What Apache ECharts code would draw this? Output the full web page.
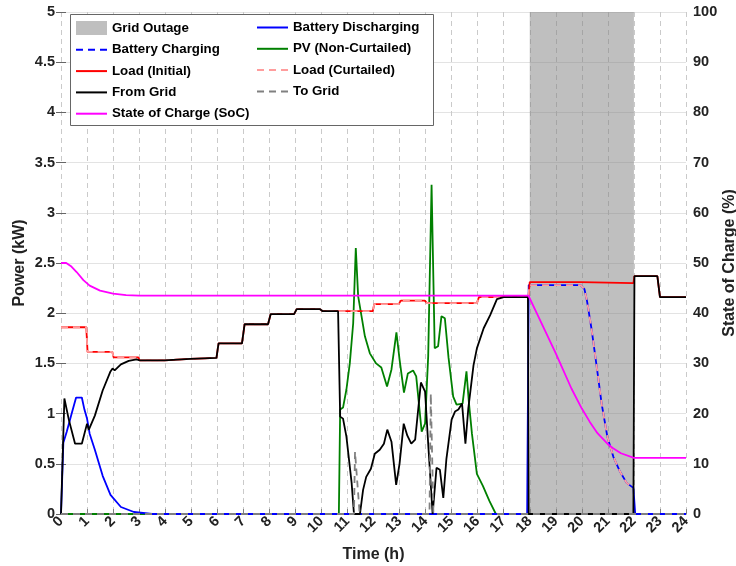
<!DOCTYPE html>
<html>
<head>
<meta charset="utf-8">
<title>Microgrid power flows</title>
<script src="https://cdn.jsdelivr.net/npm/echarts@6/dist/echarts.min.js"></script>
<style>
  html, body { margin: 0; padding: 0; background: #fff; }
  #chart { width: 736px; height: 566px; }
</style>
</head>
<body>
<div id="chart"></div>
<script>
// time axis (h)
const hourTicks = [0, 24, 1];
const outageSpan = [18, 22];

// [time (h), power (kW)]
const batteryDischarging = [
  [0, 0], [0.09, 0.71], [0.22, 0.82], [0.41, 1.0], [0.58, 1.16], [0.8, 1.16], [0.9, 1.04],
  [1.0, 0.95], [1.1, 0.8], [1.3, 0.64], [1.6, 0.38], [1.9, 0.19], [2.3, 0.07], [2.8, 0.02],
  [3.5, 0], [17.9, 0], [17.96, 2.28], [19.95, 2.28], [20.1, 2.24], [20.2, 2.12], [20.38, 1.83],
  [20.57, 1.47], [20.76, 1.1], [20.98, 0.77], [21.21, 0.57], [21.47, 0.42], [21.72, 0.31],
  [21.98, 0.26], [22.05, 0], [24, 0]
];
const batteryCharging = [
  [0, 0], [24, 0]
];
const pvNonCurtailed = [
  [0, 0], [10.67, 0], [10.72, 1.04], [10.83, 1.06], [10.96, 1.24], [11.09, 1.5], [11.22, 1.9],
  [11.32, 2.65], [11.41, 2.17], [11.54, 1.97], [11.67, 1.77], [11.86, 1.6], [12.1, 1.5],
  [12.3, 1.46], [12.52, 1.27], [12.69, 1.44], [12.88, 1.81], [13.0, 1.54], [13.17, 1.21],
  [13.32, 1.4], [13.52, 1.43], [13.64, 1.37], [13.85, 0.82], [13.98, 0.9], [14.1, 1.57],
  [14.23, 3.28], [14.35, 1.65], [14.48, 1.67], [14.61, 1.97], [14.74, 1.95], [14.88, 1.56],
  [15.06, 1.17], [15.19, 1.09], [15.42, 1.1], [15.57, 1.42], [15.66, 1.12], [15.78, 0.8],
  [15.97, 0.4], [16.2, 0.28], [16.45, 0.13], [16.7, 0], [24, 0]
];
const loadInitial = [
  [0, 1.86], [0.97, 1.86], [1.02, 1.615], [1.97, 1.615], [2.02, 1.56], [2.97, 1.56],
  [3.02, 1.53], [3.97, 1.53], [4.02, 1.545], [4.97, 1.545], [5.02, 1.555], [5.97, 1.555],
  [6.05, 1.7], [6.95, 1.7], [7.05, 1.89], [7.95, 1.89], [8.05, 1.99], [8.95, 1.99],
  [9.05, 2.04], [9.95, 2.04], [10.05, 2.02], [11.97, 2.02], [12.03, 2.09], [12.97, 2.09],
  [13.05, 2.125], [13.97, 2.125], [14.05, 2.1], [15.97, 2.1], [16.05, 2.16], [17.95, 2.16],
  [18.0, 2.31], [19.97, 2.31], [20.03, 2.3], [21.98, 2.3], [22.02, 2.37], [22.9, 2.37],
  [23.0, 2.16], [24, 2.16]
];
const loadCurtailed = [
  [0, 1.86], [0.97, 1.86], [1.02, 1.615], [1.97, 1.615], [2.02, 1.56], [2.97, 1.56],
  [3.02, 1.53], [3.97, 1.53], [4.02, 1.545], [4.97, 1.545], [5.02, 1.555], [5.97, 1.555],
  [6.05, 1.7], [6.95, 1.7], [7.05, 1.89], [7.95, 1.89], [8.05, 1.99], [8.95, 1.99],
  [9.05, 2.04], [9.95, 2.04], [10.05, 2.02], [11.97, 2.02], [12.03, 2.09], [12.97, 2.09],
  [13.05, 2.125], [13.97, 2.125], [14.05, 2.1], [15.97, 2.1], [16.05, 2.16], [17.95, 2.16],
  [17.98, 2.28], [19.95, 2.28], [20.1, 2.24], [20.2, 2.12], [20.38, 1.83], [20.57, 1.47],
  [20.76, 1.1], [20.98, 0.77], [21.21, 0.57], [21.47, 0.42], [21.72, 0.31], [21.98, 0.26]
];
const fromGrid = [
  [0, 0], [0.13, 1.15], [0.3, 0.94], [0.54, 0.7], [0.8, 0.7], [1.0, 0.9], [1.07, 0.84],
  [1.3, 0.98], [1.6, 1.23], [1.9, 1.42], [1.98, 1.45], [2.06, 1.43], [2.3, 1.49], [2.6, 1.525],
  [2.9, 1.54], [3.02, 1.53], [3.97, 1.53], [4.02, 1.545], [4.97, 1.545], [5.02, 1.555],
  [5.97, 1.555], [6.05, 1.7], [6.95, 1.7], [7.05, 1.89], [7.95, 1.89], [8.05, 1.99],
  [8.95, 1.99], [9.05, 2.04], [9.95, 2.04], [10.05, 2.02], [10.64, 2.02], [10.72, 0.97],
  [10.83, 0.95], [10.96, 0.77], [11.16, 0.31], [11.25, 0], [11.48, 0], [11.6, 0.24],
  [11.72, 0.37], [11.9, 0.45], [12.05, 0.6], [12.24, 0.64], [12.4, 0.7], [12.53, 0.84],
  [12.69, 0.72], [12.87, 0.29], [13.0, 0.5], [13.16, 0.9], [13.3, 0.78], [13.45, 0.7],
  [13.6, 0.74], [13.82, 1.31], [13.98, 1.22], [14.1, 0.7], [14.27, 0], [14.33, 0],
  [14.42, 0.46], [14.55, 0.44], [14.68, 0.16], [14.8, 0.55], [15.0, 0.94], [15.13, 1.02],
  [15.26, 1.04], [15.4, 1.1], [15.53, 0.7], [15.64, 1.05], [15.84, 1.48], [15.97, 1.65],
  [16.23, 1.85], [16.48, 1.98], [16.74, 2.14], [17.0, 2.16], [17.93, 2.16], [17.96, 0],
  [21.98, 0], [22.02, 2.37], [22.9, 2.37], [23.0, 2.16], [24, 2.16]
];
const toGrid = [
  [0, 0], [11.25, 0], [11.29, 0.62], [11.47, 0], [14.15, 0], [14.2, 1.2], [14.3, 0], [24, 0]
];
// [time (h), SoC (%)]
const stateOfCharge = [
  [0, 50], [0.2, 50], [0.4, 49.3], [0.6, 48.2], [0.86, 46.6], [1.1, 45.5], [1.5, 44.5],
  [2.0, 43.9], [2.5, 43.6], [3.0, 43.5], [17.95, 43.5], [19.0, 32], [19.6, 25], [20.0, 21],
  [20.3, 18.4], [20.6, 16.1], [21.0, 13.9], [21.2, 13.1], [21.5, 12.1], [22.0, 11.2], [24, 11.2]
];

const FONT = '"Liberation Sans", Arial, Helvetica, sans-serif';
const DASH = [7, 5];

const myChart = echarts.init(document.getElementById('chart'), null, { renderer: 'canvas' });

function lineSeries(name, data, color, extra) {
  return Object.assign({
    name: name,
    type: 'line',
    data: data,
    symbol: 'none',
    showSymbol: false,
    animation: false,
    color: color,
    lineStyle: { color: color, width: 1.8 }
  }, extra || {});
}

const legendText = { fontSize: 13.3, fontWeight: 'bold', fontFamily: FONT, color: '#000' };
// line icons only: hide the marker that the legend puts on line series
const legendBase = {
  orient: 'vertical', top: 21, padding: 0,
  itemWidth: 31, itemHeight: 14, itemGap: 8.3, selectedMode: false,
  itemStyle: { opacity: 0 },
  textStyle: legendText
};

const option = {
  animation: false,
  grid: { left: 61, right: 50, top: 12, bottom: 52, outerBoundsMode: 'none', containLabel: false },
  graphic: [{
    type: 'rect',
    left: 70, top: 14, z: 3,
    shape: { width: 363, height: 111 },
    style: { fill: '#fff', stroke: '#666', lineWidth: 1 }
  }],
  legend: [
    Object.assign({}, legendBase, {
      left: 75,
      data: [
        { name: 'Grid Outage', icon: 'rect', itemStyle: { color: '#bfbfbf', opacity: 1 } },
        'Battery Charging', 'Load (Initial)', 'From Grid', 'State of Charge (SoC)'
      ]
    }),
    Object.assign({}, legendBase, {
      left: 256,
      data: ['Battery Discharging', 'PV (Non-Curtailed)', 'Load (Curtailed)', 'To Grid']
    })
  ],
  xAxis: [
    {
      type: 'value', min: hourTicks[0], max: hourTicks[1], interval: hourTicks[2],
      name: 'Time (h)', nameLocation: 'middle', nameGap: 33,
      nameTextStyle: { fontSize: 16, fontWeight: 'bold', fontFamily: FONT, color: '#222' },
      axisLine: { show: true, lineStyle: { color: '#808080', width: 1 } },
      axisTick: { show: true, inside: true, length: 5, lineStyle: { color: '#808080' } },
      axisLabel: { rotate: 45, margin: 5, fontSize: 14.5, fontWeight: 'bold', fontFamily: FONT, color: '#222' },
      splitLine: { show: true, lineStyle: { color: '#cacaca', type: [5, 4], width: 1 } }
    },
    {
      type: 'value', position: 'top', min: hourTicks[0], max: hourTicks[1], interval: hourTicks[2],
      axisLine: { show: true, lineStyle: { color: '#a0a0a0', width: 1 } },
      axisTick: { show: false }, axisLabel: { show: false }, splitLine: { show: false }
    }
  ],
  yAxis: [
    {
      type: 'value', min: 0, max: 5, interval: 0.5,
      name: 'Power (kW)', nameLocation: 'middle', nameGap: 33, nameRotate: 90, nameMoveOverlap: false,
      nameTextStyle: { fontSize: 16, fontWeight: 'bold', fontFamily: FONT, color: '#222' },
      axisLine: { show: false },
      axisTick: { show: true, inside: true, length: 5, lineStyle: { color: '#666' } },
      axisLabel: { margin: 6, fontSize: 14.5, fontWeight: 'bold', fontFamily: FONT, color: '#222' },
      splitLine: { show: true, lineStyle: { color: '#e3e3e3', width: 1 } }
    },
    {
      type: 'value', min: 0, max: 100, interval: 10, position: 'right',
      name: 'State of Charge (%)', nameLocation: 'middle', nameGap: 36, nameRotate: 90, nameMoveOverlap: false,
      nameTextStyle: { fontSize: 16, fontWeight: 'bold', fontFamily: FONT, color: '#222' },
      axisLine: { show: false },
      axisTick: { show: true, inside: true, length: 5, lineStyle: { color: '#666' } },
      axisLabel: { margin: 7, fontSize: 14.5, fontWeight: 'bold', fontFamily: FONT, color: '#222' },
      splitLine: { show: false }
    }
  ],
  series: [
    lineSeries('Grid Outage', [], '#bfbfbf', {
      lineStyle: { width: 0, color: '#bfbfbf' },
      markArea: {
        silent: true,
        itemStyle: { color: 'rgba(128,128,128,0.5)' },
        data: [[{ xAxis: outageSpan[0] }, { xAxis: outageSpan[1] }]]
      }
    }),
    lineSeries('PV (Non-Curtailed)', pvNonCurtailed, '#008000'),
    lineSeries('Battery Charging', batteryCharging, '#0000ff', {
      lineStyle: { color: '#0000ff', width: 1.8, type: DASH }
    }),
    lineSeries('Battery Discharging', batteryDischarging, '#0000ff'),
    lineSeries('Load (Initial)', loadInitial, '#ff0000'),
    lineSeries('Load (Curtailed)', loadCurtailed, '#ff9d9d', {
      lineStyle: { color: '#ff9d9d', width: 1.8, type: DASH }
    }),
    lineSeries('From Grid', fromGrid, '#000000'),
    lineSeries('To Grid', toGrid, '#808080', {
      lineStyle: { color: '#808080', width: 1.8, type: DASH }
    }),
    lineSeries('State of Charge (SoC)', stateOfCharge, '#ff00ff', { yAxisIndex: 1 })
  ]
};

myChart.setOption(option);
</script>
</body>
</html>
